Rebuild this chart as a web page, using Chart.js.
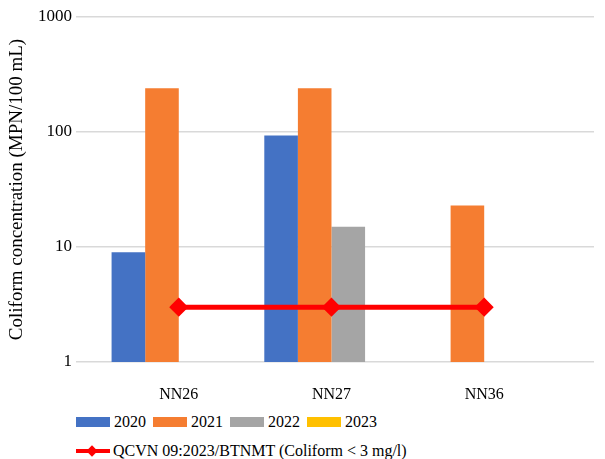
<!DOCTYPE html>
<html>
<head>
<meta charset="utf-8">
<script src="https://cdn.jsdelivr.net/npm/chart.js@4/dist/chart.umd.min.js"></script>
<style>
  body { margin: 0; background: #fff; }
  #wrap { position: relative; width: 605px; height: 459px; font-family: 'Liberation Serif', 'Times New Roman', serif; }
  #chartBox { position: absolute; left: 0; top: 0; width: 605px; height: 400px; }
  .row { position: absolute; left: 76px; height: 20px; display: flex; align-items: center; font-size: 16px; color: #000; white-space: nowrap; }
  .box { width: 34px; height: 10px; margin-right: 4px; }
  .item { display: flex; align-items: center; margin-right: 7px; }
  .lineIcon { position: relative; width: 34px; height: 12px; margin-right: 3px; }
  .lineIcon .bar { position: absolute; left: 0; top: 4px; width: 34px; height: 4px; }
  .lineIcon .dia { position: absolute; left: 12px; top: 1px; width: 8px; height: 8px; transform: rotate(45deg); transform-origin: center; margin-top: 1px; }
</style>
</head>
<body>
<div id="wrap">
  <div id="chartBox"><canvas id="coliformChart"></canvas></div>
  <div class="row" id="legendRow1" style="top:412px"></div>
  <div class="row" id="legendRow2" style="top:441px"></div>
</div>
<script>
// data
const stations = ['NN26', 'NN27', 'NN36'];
const years = ['2020', '2021', '2022', '2023'];
const values2020 = [9, 93, null];
const values2021 = [240, 240, 23];
const values2022 = [null, 15, null];
const values2023 = [null, null, null];
const limitValues = [3, 3, 3];
const limitLabel = 'QCVN 09:2023/BTNMT (Coliform < 3 mg/l)';
const yTicks = [1, 10, 100, 1000];

const yearColors = ['#4472C4', '#F57D31', '#A5A5A5', '#FFC000'];
const limitColor = '#FF0000';
const font = "'Liberation Serif', 'Times New Roman', serif";

// stations placed at 0,1,2 on a linear axis so the grid can run full width
const toPoints = arr => arr.map((v, i) => ({ x: i, y: v }));
const yearValues = [values2020, values2021, values2022, values2023];

const datasets = years.map((y, k) => ({
    type: 'bar',
    label: y,
    data: toPoints(yearValues[k]),
    backgroundColor: yearColors[k],
    categoryPercentage: 0.88,
    barPercentage: 1.0,
    order: 1
}));
datasets.push({
    type: 'line',
    label: limitLabel,
    data: toPoints(limitValues),
    borderColor: limitColor,
    backgroundColor: limitColor,
    borderWidth: 5,
    pointStyle: 'rectRot',
    pointRadius: 6,
    pointBackgroundColor: limitColor,
    pointBorderColor: limitColor,
    order: 0
});

const ctx = document.getElementById('coliformChart').getContext('2d');
const chart = new Chart(ctx, {
    type: 'bar',
    data: { datasets },
    options: {
        responsive: true,
        maintainAspectRatio: false,
        animation: false,
        layout: { padding: { top: 17, right: 5, left: 0, bottom: 0 } },
        plugins: { legend: { display: false }, tooltip: { enabled: false } },
        scales: {
            x: {
                type: 'linear',
                offset: false,
                min: -0.673,
                max: 2.719,
                afterBuildTicks: s => { s.ticks = stations.map((_, i) => ({ value: i })); },
                afterFit: s => { s.height = 38; },
                ticks: {
                    callback: v => stations[v],
                    font: { family: font, size: 16 },
                    color: '#000',
                    padding: 15,
                    autoSkip: false,
                    maxRotation: 0
                },
                grid: { display: false, offset: false },
                border: { display: false }
            },
            y: {
                type: 'logarithmic',
                min: 1,
                max: 1000,
                afterBuildTicks: s => { s.ticks = yTicks.map(v => ({ value: v })); },
                afterFit: s => { s.width = 76; },
                ticks: {
                    callback: v => String(v),
                    font: { family: font, size: 17 },
                    color: '#000',
                    padding: 4
                },
                grid: { color: '#D9D9D9', lineWidth: 1.5, drawTicks: false },
                border: { display: false },
                title: {
                    display: true,
                    text: 'Coliform concentration (MPN/100 mL)',
                    font: { family: font, size: 19 },
                    color: '#000',
                    padding: { top: 6, bottom: 0 }
                }
            }
        }
    }
});

// legend below the chart, built from the same series
const row1 = document.getElementById('legendRow1');
years.forEach((y, k) => {
    const item = document.createElement('span');
    item.className = 'item';
    item.innerHTML = `<span class="box" style="background:${yearColors[k]}"></span><span>${y}</span>`;
    row1.appendChild(item);
});
const row2 = document.getElementById('legendRow2');
const lineItem = document.createElement('span');
lineItem.className = 'item';
lineItem.innerHTML = `<span class="lineIcon"><span class="bar" style="background:${limitColor}"></span><span class="dia" style="background:${limitColor}"></span></span>`;
const txt = document.createElement('span');
txt.textContent = limitLabel;
lineItem.appendChild(txt);
row2.appendChild(lineItem);
</script>
</body>
</html>
